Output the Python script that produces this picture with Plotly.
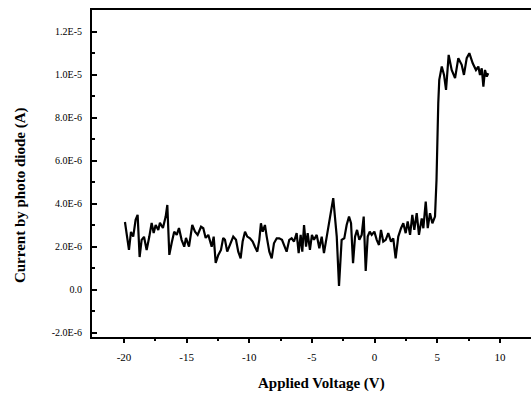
import plotly.graph_objects as go

voltage = [-19.92, -19.60, -19.44, -19.26, -19.07, -18.91, -18.75, -18.59, -18.40, -18.19,
           -17.98, -17.79, -17.63, -17.47, -17.26, -17.13, -16.89, -16.67, -16.54, -16.38,
           -16.19, -15.99, -15.79, -15.61, -15.40, -15.19, -15.05, -14.81, -14.55, -14.33,
           -14.12, -13.85, -13.67, -13.48, -13.27, -13.00, -12.84, -12.68, -12.47, -12.26,
           -12.08, -11.94, -11.76, -11.54, -11.28, -11.06, -10.88, -10.69, -10.53, -10.34,
           -10.16, -9.94, -9.73, -9.55, -9.36, -9.20, -9.07, -8.93, -8.75, -8.61,
           -8.40, -8.21, -8.03, -7.81, -7.61, -7.39, -7.21, -7.02, -6.81, -6.62,
           -6.43, -6.22, -6.06, -5.90, -5.77, -5.63, -5.47, -5.34, -5.16, -5.00,
           -4.84, -4.62, -4.41, -4.22, -4.04, -3.70, -3.30, -3.02, -2.84, -2.63,
           -2.42, -2.23, -2.04, -1.88, -1.72, -1.56, -1.40, -1.22, -1.03, -0.87,
           -0.71, -0.55, -0.39, -0.23, -0.02, 0.17, 0.35, 0.51, 0.69, 0.89,
           1.09, 1.31, 1.49, 1.68, 1.89, 2.11, 2.29, 2.48, 2.64, 2.83,
           3.01, 3.17, 3.36, 3.54, 3.76, 3.89, 4.08, 4.24, 4.42, 4.61,
           4.82, 4.94, 5.00, 5.08, 5.16, 5.36, 5.54, 5.70, 5.91, 6.15,
           6.42, 6.68, 6.95, 7.13, 7.35, 7.56, 7.83, 8.09, 8.28, 8.41,
           8.55, 8.68, 8.81, 8.95, 9.07]

current_uA = [3.16, 1.86, 2.70, 2.48, 3.26, 3.49, 1.53, 2.33, 2.47, 1.86,
              2.47, 3.12, 2.65, 3.02, 2.79, 3.12, 2.88, 3.41, 3.95, 1.63,
              2.19, 2.71, 2.56, 2.88, 2.33, 2.01, 2.42, 2.01, 3.02, 2.71,
              2.56, 2.94, 2.87, 2.42, 2.56, 2.01, 2.48, 1.26, 1.63, 1.86,
              2.42, 2.33, 1.78, 2.09, 2.48, 2.33, 1.78, 1.47, 2.25, 2.71,
              2.48, 2.40, 2.25, 2.01, 1.78, 2.33, 3.10, 2.71, 3.02, 2.48,
              1.78, 1.47, 2.17, 2.40, 2.40, 2.33, 2.09, 1.78, 2.33, 2.40,
              2.25, 2.64, 1.71, 2.56, 1.78, 3.02, 2.01, 2.64, 1.86, 2.56,
              2.33, 2.56, 1.94, 2.48, 1.71, 2.94, 4.27, 2.48, 0.19, 2.33,
              2.40, 3.02, 3.41, 3.10, 1.24, 2.48, 2.79, 2.33, 2.56, 3.41,
              0.88, 2.48, 2.71, 2.56, 2.71, 2.33, 2.09, 2.79, 2.25, 2.33,
              2.64, 2.25, 2.40, 1.47, 2.48, 2.87, 3.10, 2.64, 3.18, 2.56,
              3.49, 2.79, 3.57, 2.56, 3.33, 2.87, 4.11, 2.87, 3.57, 3.10,
              3.41, 5.12, 7.13, 8.68, 9.77, 10.39, 10.00, 9.30, 10.93, 10.23,
              9.85, 10.78, 10.47, 10.00, 10.78, 11.01, 10.54, 10.23, 10.39, 10.00,
              10.31, 9.46, 10.23, 9.92, 10.08]

current = [c * 1e-6 for c in current_uA]

y_tick_vals = [-2e-6, 0, 2e-6, 4e-6, 6e-6, 8e-6, 1e-5, 1.2e-5]
y_tick_text = ["-2.0E-6", "0.0", "2.0E-6", "4.0E-6", "6.0E-6", "8.0E-6", "1.0E-5", "1.2E-5"]
x_tick_vals = [-20, -15, -10, -5, 0, 5, 10]
x_tick_text = ["-20", "-15", "-10", "-5", "0", "5", "10"]

serif = "Liberation Serif, Times New Roman, serif"

fig = go.Figure()
fig.add_trace(go.Scatter(x=voltage, y=current, mode="lines",
                         line=dict(color="black", width=2.2), showlegend=False))

fig.update_layout(
    width=531, height=399,
    margin=dict(l=92, r=0, t=10, b=62),
    paper_bgcolor="white", plot_bgcolor="white",
    font=dict(family=serif, color="black"),
    xaxis=dict(range=[-22.55, 12.48], tickvals=x_tick_vals, ticktext=x_tick_text,
               showline=True, linecolor="black", linewidth=2, mirror=True,
               ticks="outside", ticklen=4, tickwidth=1.5, tickcolor="black",
               ticklabelstandoff=5,
               minor=dict(tickvals=[-17.5, -12.5, -7.5, -2.5, 2.5, 7.5], ticks="outside",
                          ticklen=2, tickcolor="black"),
               showgrid=False, zeroline=False,
               tickfont=dict(size=11, family=serif, color="black")),
    yaxis=dict(range=[-2.19e-6, 1.302e-5], tickvals=y_tick_vals, ticktext=y_tick_text,
               showline=True, linecolor="black", linewidth=2, mirror=False,
               ticks="inside", ticklen=5, tickwidth=1.5, tickcolor="black",
               ticklabelstandoff=6,
               minor=dict(tickvals=[-1e-6, 1e-6, 3e-6, 5e-6, 7e-6, 9e-6, 1.1e-5], ticks="inside",
                          ticklen=3, tickcolor="black"),
               showgrid=False, zeroline=False,
               tickfont=dict(size=10, family=serif, color="black")),
    annotations=[
        dict(text="<b>Applied Voltage (V)</b>", xref="paper", yref="paper",
             x=0.522, y=-0.141, xanchor="center", yanchor="middle", showarrow=False,
             font=dict(size=15, family=serif, color="black")),
        dict(text="<b>Current by photo diode (A)</b>", xref="paper", yref="paper",
             x=-0.164, y=0.434, xanchor="center", yanchor="middle", showarrow=False,
             textangle=-90, font=dict(size=15, family=serif, color="black")),
    ],
)

fig.write_html("out.html")
